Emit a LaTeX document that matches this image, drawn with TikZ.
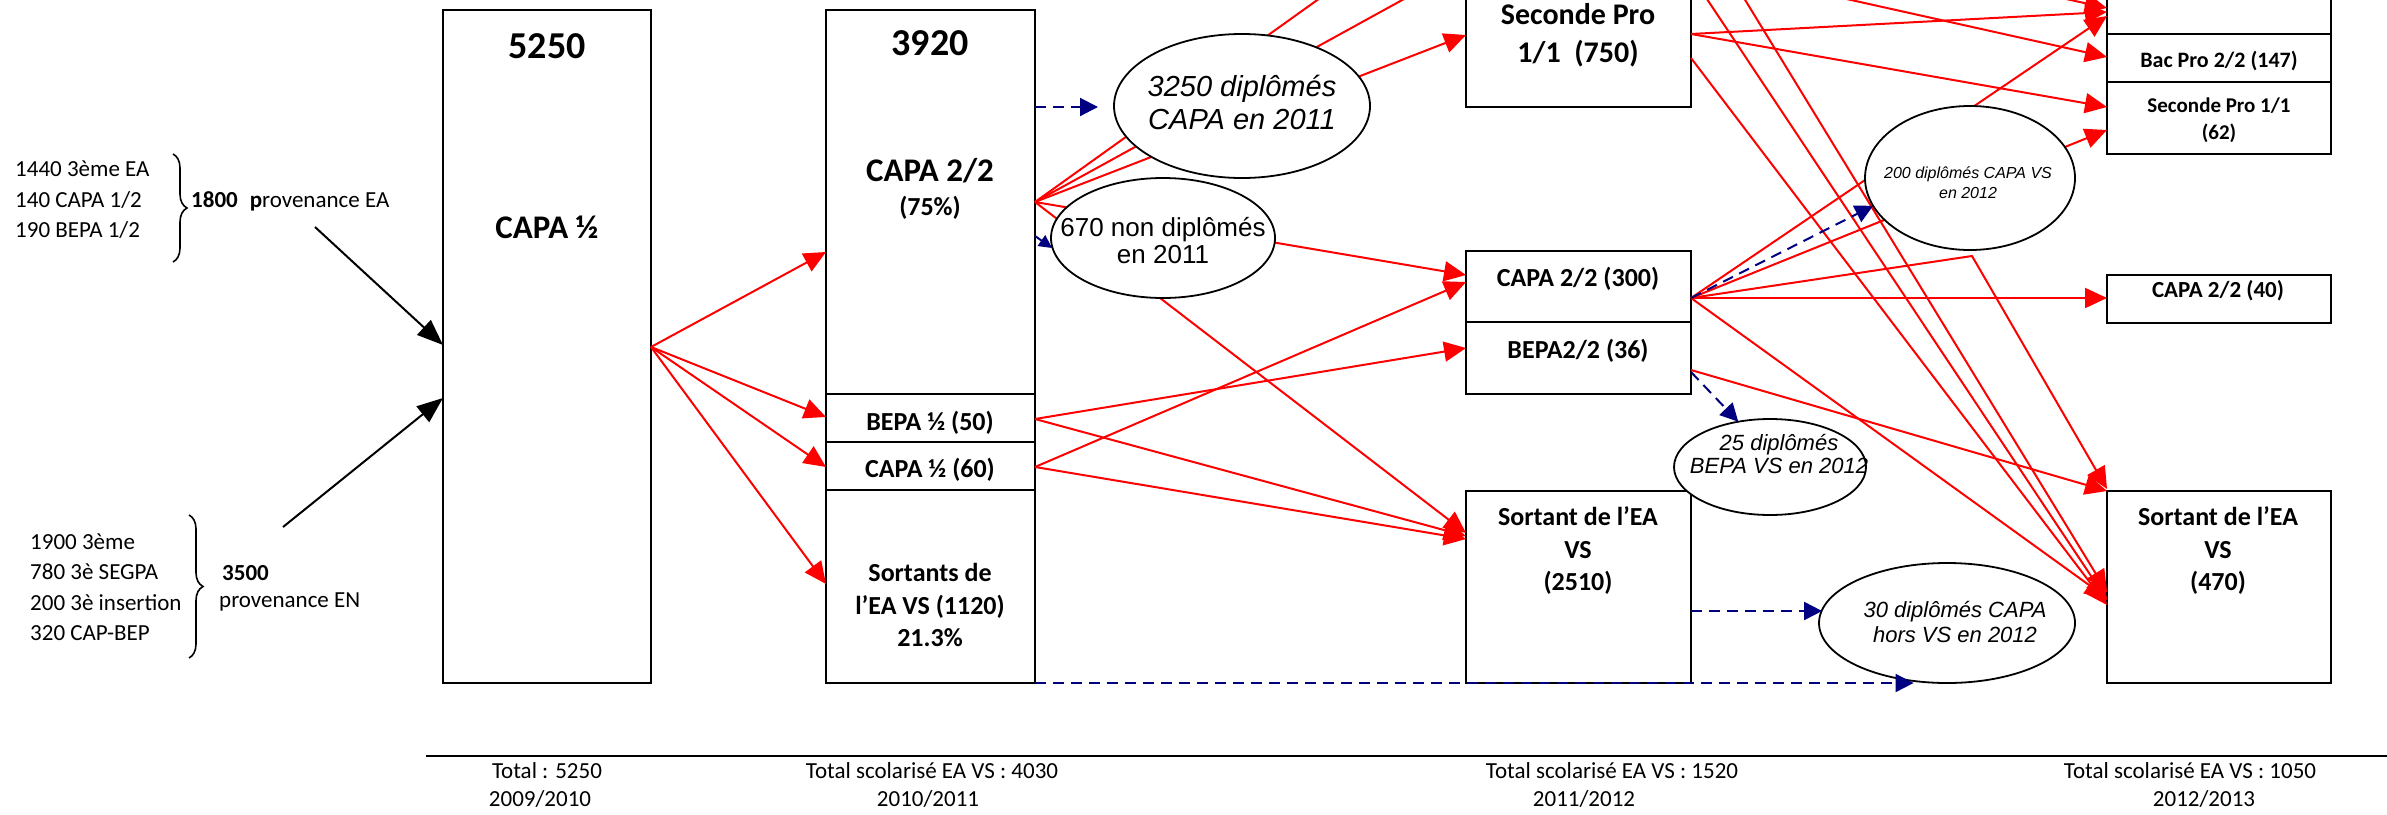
\documentclass[tikz,border=0pt]{standalone}
\usepackage{fontspec}
\setmainfont{Carlito}
\newfontfamily\arialf{Liberation Sans}
\usetikzlibrary{arrows.meta,decorations.pathreplacing,shapes.geometric}
\definecolor{navyb}{RGB}{0,0,128}
\definecolor{redl}{RGB}{255,0,0}
\tikzset{
 box/.style={draw=black, line width=2.4pt, fill=white, inner sep=0pt, outer sep=0pt, anchor=north west},
 ell/.style={draw=black, line width=1.8pt, fill=white, ellipse, inner sep=0pt, outer sep=0pt},
 rl/.style={draw=redl, line width=2pt},
 ra/.style={rl, -{Triangle[length=22pt,width=20pt]}},
 ba/.style={draw=navyb, line width=2pt, dash pattern=on 11pt off 7pt, -{Triangle[length=18pt,width=18pt]}},
 ka/.style={draw=black, line width=2pt, -{Triangle[length=26pt,width=20pt]}},
 bt/.style={font=\bfseries\fontsize{26}{32.5}\selectfont, align=center, inner sep=0pt},
 lt/.style={font=\fontsize{23}{30.5}\selectfont, inner sep=0pt},
 et/.style={align=center, inner sep=0pt},
 brc/.style={draw=black, line width=1.6pt, decorate, decoration={brace, amplitude=14pt}}
}
\begin{document}
\begin{tikzpicture}[x=1pt,y=-1pt]
\useasboundingbox (0,0) rectangle (2387,814);
\clip (0,0) rectangle (2387,814);
\fill[white] (0,0) rectangle (2387,814);

% ---------- boxes ----------
\node[box, minimum width=208pt, minimum height=673pt] (bA) at (443,10) {};
\node[box, minimum width=209pt, minimum height=384pt] (bB1) at (826,10) {};
\node[box, minimum width=209pt, minimum height=48pt] (bB2) at (826,394) {};
\node[box, minimum width=209pt, minimum height=48pt] (bB3) at (826,442) {};
\node[box, minimum width=209pt, minimum height=193pt] (bB4) at (826,490) {};
\node[box, minimum width=225pt, minimum height=167pt] (bCsp) at (1466,-60) {};
\node[box, minimum width=225pt, minimum height=71pt] (bCc) at (1466,251) {};
\node[box, minimum width=225pt, minimum height=72pt] (bCb) at (1466,322) {};
\node[box, minimum width=225pt, minimum height=192pt] (bCs) at (1466,491) {};
\node[box, minimum width=224pt, minimum height=94pt] (bDt) at (2107,-60) {};
\node[box, minimum width=224pt, minimum height=48pt] (bDb) at (2107,34) {};
\node[box, minimum width=224pt, minimum height=72pt] (bDs) at (2107,82) {};
\node[box, minimum width=224pt, minimum height=48pt] (bDc) at (2107,275) {};
\node[box, minimum width=224pt, minimum height=192pt] (bDv) at (2107,491) {};

% ---------- box texts ----------
\node[bt, font=\bfseries\fontsize{38}{44}\selectfont] (tA1) at (547,46) {5250};
\node[bt, font=\bfseries\fontsize{33}{38}\selectfont] (tA2) at (547,227) {CAPA ½};
\node[bt, font=\bfseries\fontsize{38}{44}\selectfont] (tB1) at (930,43) {3920};
\node[bt, font=\bfseries\fontsize{33}{40}\selectfont] (tB2) at (930,171) {CAPA 2/2};
\node[bt] (tB3) at (930,208) {(75\%)};
\node[bt] (tB4) at (930,423) {BEPA ½ (50)};
\node[bt] (tB5) at (930,470) {CAPA ½ (60)};
\node[bt] (tB6) at (930,605) {Sortants de\\l’EA VS (1120)\\21.3\%};
\node[bt, font=\bfseries\fontsize{30}{38}\selectfont] (tC1) at (1578,35) {Seconde Pro\\1/1\ \ (750)};
\node[bt] (tC2) at (1578,279) {CAPA 2/2 (300)};
\node[bt] (tC3) at (1578,351) {BEPA2/2 (36)};
\node[bt] (tC4) at (1578,551) {Sortant de l’EA\\VS\\(2510)};
\node[bt, font=\bfseries\fontsize{22}{27}\selectfont] (tD1) at (2219,61) {Bac Pro 2/2 (147)};
\node[bt, font=\bfseries\fontsize{21}{27}\selectfont] (tD2) at (2219,120) {Seconde Pro 1/1\\(62)};
\node[bt, font=\bfseries\fontsize{23}{28}\selectfont] (tD3) at (2218,291) {CAPA 2/2 (40)};
\node[bt] (tD4) at (2218,551) {Sortant de l’EA\\VS\\(470)};

% ---------- left texts ----------
\node[lt, align=left, anchor=west] (g1) at (15,200) {1440 3ème EA\\140 CAPA 1/2\\190 BEPA 1/2};
\draw[brc] (173,154) -- (173,262);
\node[lt, anchor=west] (g1b) at (191,201) {\textbf{1800}\hspace{12pt}\textbf{p}rovenance EA};
\node[lt, align=left, anchor=west] (g2) at (30,587) {1900 3ème\\780 3è SEGPA\\200 3è insertion\\320 CAP-BEP};
\draw[brc] (189,515) -- (189,658);
\node[lt, anchor=west] (g2b) at (222,573) {\textbf{3500}};
\node[lt, anchor=west] (g2c) at (219,602) {provenance EN};

% ---------- bottom ----------
\coordinate (r0) at (426,756);
\coordinate (r1) at (2387,756);
\draw[line width=2pt] (r0) -- (r1);
\node[lt] (f1) at (547,771) {Total : 5250};
\node[lt] (f2) at (540,799) {2009/2010};
\node[lt] (f3) at (932,771) {Total scolarisé EA VS : 4030};
\node[lt] (f4) at (928,799) {2010/2011};
\node[lt] (f5) at (1612,771) {Total scolarisé EA VS : 1520};
\node[lt] (f6) at (1584,799) {2011/2012};
\node[lt] (f7) at (2190,771) {Total scolarisé EA VS : 1050};
\node[lt] (f8) at (2204,799) {2012/2013};

% ---------- black arrows ----------
\coordinate (s1) at (315,227);
\coordinate (s2) at (283,527);
\draw[ka] (s1) -- (bA.west |- 0,345);
\draw[ka] (s2) -- (bA.west |- 0,398);

% ---------- red: A -> B ----------
\draw[ra] (bA.east |- 0,347) -- (bB1.west |- 0,252);
\draw[ra] (bA.east |- 0,347) -- (bB2.west |- 0,417);
\draw[ra] (bA.east |- 0,347) -- (bB3.west |- 0,467);
\draw[ra] (bA.east |- 0,347) -- (bB4.west |- 0,584);

% ---------- red: B -> C ----------
\coordinate (o1) at (1457,-100);
\coordinate (o2) at (1584,-100);
\draw[rl] (bB1.east |- 0,202) -- (o1);
\draw[rl] (bB1.east |- 0,202) -- (o2);
\draw[ra] (bB1.east |- 0,202) -- (bCsp.west |- 0,35);
\draw[ra] (bB1.east |- 0,202) -- (bCc.west |- 0,275);
\draw[ra] (bB1.east |- 0,202) -- (bCs.west |- 0,533);
\draw[ra] (bB2.east |- 0,419) -- (bCb.west |- 0,348);
\draw[ra] (bB2.east |- 0,419) -- (bCs.west |- 0,536);
\draw[ra] (bB3.east |- 0,467) -- (bCc.west |- 0,282);
\draw[ra] (bB3.east |- 0,467) -- (bCs.west |- 0,539);

% ---------- red: C -> D ----------
\coordinate (o3) at (1641,-100);
\coordinate (o4) at (1684,-100);
\coordinate (o5) at (1402,-100);
\coordinate (o6) at (1616,-100);
\coordinate (kn) at (1972,256);
\draw[ra] (bCsp.east |- 0,34) -- (bDt.west |- 0,12);
\draw[ra] (bCsp.east |- 0,34) -- (bDs.west |- 0,107);
\draw[ra] (bCsp.east |- 0,58) -- (bDv.west |- 0,605);
\draw[ra] (o3) -- (bDv.west |- 0,600);
\draw[ra] (o4) -- (bDv.west |- 0,592);
\draw[ra] (o5) -- (bDb.west |- 0,57);
\draw[ra] (o6) -- (bDt.west |- 0,8);
\draw[ra] (bCc.east |- 0,298) -- (bDt.west |- 0,16);
\draw[ra] (bCc.east |- 0,298) -- (bDs.west |- 0,130);
\draw[ra] (bCc.east |- 0,298) -- (bDc.west |- 0,298);
\draw[ra] (bCc.east |- 0,298) -- (bDv.west |- 0,598);
\draw[ra] (bCc.east |- 0,298) -- (kn) -- (bDv.west |- 0,489);
\draw[ra] (bCb.east |- 0,370) -- (bDv.north west);

% ---------- ellipses ----------
\draw[ba, -{Triangle[length=13pt,width=13pt]}] (bB1.east |- 0,236) -- (1052,248);
\node[ell, minimum width=256pt, minimum height=144pt] (E1) at (1242,106) {};
\node[ell, minimum width=224pt, minimum height=120pt] (E2) at (1163,238) {};
\node[ell, minimum width=210pt, minimum height=144pt] (E3) at (1970,178) {};
\node[ell, minimum width=192pt, minimum height=96pt] (E4) at (1770,467) {};
\node[ell, minimum width=256pt, minimum height=120pt] (E5) at (1947,623) {};
\node[et, font=\arialf\itshape\fontsize{29}{33}\selectfont] (tE1) at (1242,102) {3250 diplômés\\CAPA en 2011};
\node[et, font=\arialf\fontsize{26}{27}\selectfont] (tE2) at (1163,241) {670 non diplômés\\en 2011};
\node[et, font=\arialf\itshape\fontsize{16}{20}\selectfont] (tE3) at (1968,183) {200 diplômés CAPA VS\\en 2012};
\node[et, font=\arialf\itshape\fontsize{22}{23}\selectfont] (tE4) at (1779,454) {25 diplômés\\BEPA VS en 2012};
\node[et, font=\arialf\itshape\fontsize{22}{25}\selectfont] (tE5) at (1955,622) {30 diplômés CAPA\\hors VS en 2012};

% ---------- blue dashed ----------
\coordinate (d1) at (1098,107);
\draw[ba] (bB1.east |- 0,107) -- (d1);
\draw[ba] (bCc.east |- 0,298) -- (E3.196);
\draw[ba] (bCb.east |- 0,372) -- (E4.125);
\draw[ba] (bCs.east |- 0,611) -- (E5.174 |- 0,611);
\draw[ba] (bB4.south east) -- (E5.240 |- bB4.south east);
\end{tikzpicture}
\end{document}
